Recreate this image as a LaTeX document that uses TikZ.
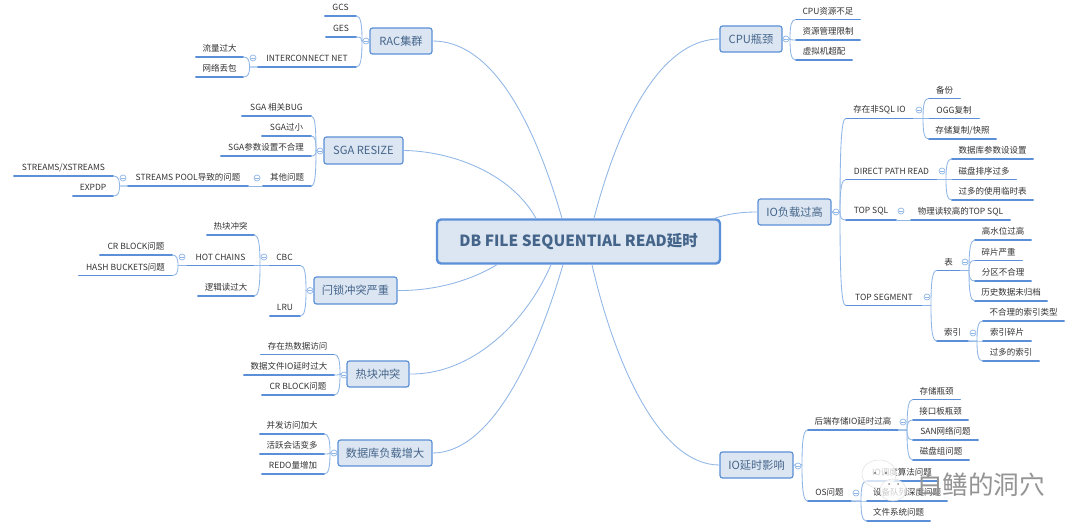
\documentclass[tikz,border=0pt]{standalone}
\usepackage{fontspec}
\setmainfont{Noto Sans CJK SC}
\usetikzlibrary{calc}
\definecolor{bfill}{HTML}{DCE6F2}
\definecolor{bline}{HTML}{5B90D8}
\definecolor{cline}{HTML}{8FB6E6}
\definecolor{btext}{HTML}{44648A}
\definecolor{ltext}{HTML}{333333}
\tikzset{
  x=1pt,y=-1pt,
  conn/.style={draw=cline,line width=0.85pt},
  uline/.style={draw=bline,line width=1.3pt,line cap=round},
  leafnode/.style={inner sep=0pt,minimum height=16.5pt,anchor=south,text=ltext,font=\fontsize{8.5}{10}\selectfont},
  boxnode/.style={draw=bline,fill=bfill,line width=1.2pt,rounded corners=2.5pt,inner sep=0pt,text=btext,font=\fontsize{11.2}{14}\selectfont},
  rootnode/.style={draw=bline,fill=bfill,line width=2.4pt,rounded corners=4pt,inner sep=0pt,text=btext,font=\fontsize{15.4}{18}\selectfont\bfseries},
  collnode/.style={circle,draw=cline,fill=white,line width=0.7pt,minimum size=6pt,inner sep=0pt},
  bubble/.style={draw=black!12,fill=white,fill opacity=0.75,line width=0.5pt},
}
\newcommand{\leaf}[5]{%
  \node[leafnode,minimum width={(#3-#2)*1pt}] (#1) at ({(#2+#3)/2},#4) {\makebox[0pt][c]{#5}};
  \draw[uline] (#1.south west) -- (#1.south east);
}
\newcommand{\bx}[6]{%
  \node[boxnode,minimum width={(#3-#2)*1pt},minimum height={(#5-#4)*1pt}] (#1) at ({(#2+#3)/2},{(#4+#5)/2}) {#6};
}
% connector with a stem at absolute x = #3
\newcommand{\cn}[3]{%
  \draw[conn] let \p1=(#1),\p2=(#2),\p3=(#3,0) in (\p1) -- (\x3,\y1) .. controls (\x3,{\y1+0.72*(\y2-\y1)}) and ({\x3+0.25*(\x2-\x3)},\y2) .. (\p2);
}
\newcommand{\coll}[3]{%
  \node[collnode] (#1) at (#2,#3) {};
  \draw[cline,line width=0.6pt] ([xshift=-1.8pt]#1.center) -- ([xshift=1.8pt]#1.center);
}
\begin{document}
\begin{tikzpicture}
\useasboundingbox (0,0) rectangle (1080,532);
\fill[white] (0,0) rectangle (1080,532);

% root and first level
\node[rootnode,minimum width=283pt,minimum height=44pt] (root) at (578.5,241.5) {DB FILE SEQUENTIAL READ延时};
\bx{rac}{370}{432}{28}{54}{RAC集群}
\bx{sga}{324}{403}{137}{164}{SGA RESIZE}
\bx{latch}{314}{397}{277}{304}{闩锁冲突严重}
\bx{hot}{347}{409}{361}{387}{热块冲突}
\bx{dbl}{338}{432}{440}{466}{数据库负载增大}
\bx{cpu}{720}{782}{26}{52}{CPU瓶颈}
\bx{ioh}{758}{831}{199}{225}{IO负载过高}
\bx{iod}{720}{793}{452}{478}{IO延时影响}

% root connectors
\draw[conn] (rac.east) .. controls (490,41) and (532,115) .. ([xshift=-16.5pt]root.north);
\draw[conn] (sga.east) .. controls (450,151) and (510,172) .. ([xshift=-42.5pt]root.north);
\draw[conn] (cpu.west) .. controls (670,39) and (625,100) .. ([xshift=15.5pt]root.north);
\draw[conn] (ioh.west) .. controls (740,212) and (728,214) .. ([xshift=136pt]root.north);
\draw[conn] (latch.east) .. controls (440,291) and (475,278) .. ([xshift=-81.5pt]root.south);
\draw[conn] (hot.east) .. controls (470,375) and (525,325) .. ([xshift=-27.5pt]root.south);
\draw[conn] (dbl.east) .. controls (490,453) and (535,360) .. ([xshift=-15.5pt]root.south);
\draw[conn] (iod.west) .. controls (660,465) and (615,365) .. ([xshift=13.5pt]root.south);

% RAC
\leaf{gcs}{325}{356}{16}{GCS}
\leaf{ges}{326}{356}{37}{GES}
\leaf{inet}{258}{356}{67}{INTERCONNECT NET}
\leaf{flow}{196}{243}{57}{流量过大}
\leaf{loss}{196}{243}{77}{网络丢包}
\cn{rac.west}{gcs.south east}{362}
\cn{rac.west}{ges.south east}{362}
\cn{rac.west}{inet.south east}{362}
\cn{inet.south west}{flow.south east}{249.5}
\cn{inet.south west}{loss.south east}{249.5}
\coll{c1}{366}{41}
\coll{c2}{253}{58}

% SGA
\leaf{sbug}{242}{311}{116}{SGA 相关BUG}
\leaf{ssmall}{262}{311}{136}{SGA过小}
\leaf{sparam}{221}{311}{156}{SGA参数设置不合理}
\leaf{sother}{263}{311}{186}{其他问题}
\leaf{spool}{128}{248}{186}{STREAMS POOL导致的问题}
\leaf{sx}{14}{113}{176}{STREAMS/XSTREAMS}
\leaf{sexp}{73}{113}{196}{EXPDP}
\cn{sga.west}{sbug.south east}{316}
\cn{sga.west}{ssmall.south east}{316}
\cn{sga.west}{sparam.south east}{316}
\cn{sga.west}{sother.south east}{316}
\draw[conn] (sother.south west) -- (spool.south east);
\cn{spool.south west}{sx.south east}{119.5}
\cn{spool.south west}{sexp.south east}{119.5}
\coll{c3}{320}{151}
\coll{c4}{257}{178}
\coll{c5}{123}{178}

% latch
\leaf{cbc}{269}{300}{265.5}{CBC}
\leaf{lru}{270}{300}{316}{LRU}
\leaf{lhot}{207}{254}{235}{热块冲突}
\leaf{chains}{187}{254}{265.5}{HOT CHAINS}
\leaf{lread}{198}{254}{296}{逻辑读过大}
\leaf{crb}{100}{172}{255}{CR BLOCK问题}
\leaf{hash}{79}{172}{275.5}{HASH BUCKETS问题}
\cn{latch.west}{cbc.south east}{306}
\cn{latch.west}{lru.south east}{306}
\cn{cbc.south west}{lhot.south east}{260}
\cn{cbc.south west}{chains.south east}{260}
\cn{cbc.south west}{lread.south east}{260}
\cn{chains.south west}{crb.south east}{178}
\cn{chains.south west}{hash.south east}{178}
\coll{c6}{310}{290.5}
\coll{c7}{264}{257}
\coll{c8}{182}{257}

% hot block
\leaf{hdata}{261}{334}{354.5}{存在热数据访问}
\leaf{hfile}{244}{334}{375}{数据文件IO延时过大}
\leaf{hcr}{262}{334}{395}{CR BLOCK问题}
\cn{hot.west}{hdata.south east}{340}
\cn{hot.west}{hfile.south east}{340}
\cn{hot.west}{hcr.south east}{340}
\coll{c9}{344}{375}

% db load
\leaf{dcon}{260}{324}{434}{并发访问加大}
\leaf{dact}{260}{324}{454}{活跃会话变多}
\leaf{dredo}{262}{324}{474}{REDO量增加}
\cn{dbl.west}{dcon.south east}{330}
\cn{dbl.west}{dact.south east}{330}
\cn{dbl.west}{dredo.south east}{330}
\coll{c10}{334}{453}

% CPU
\leaf{cres}{796}{860}{19.5}{CPU资源不足}
\leaf{cmgr}{796}{860}{40}{资源管理限制}
\leaf{cvm}{796}{852}{60}{虚拟机超配}
\cn{cpu.east}{cres.south west}{790}
\cn{cpu.east}{cmgr.south west}{790}
\cn{cpu.east}{cvm.south west}{790}
\coll{c11}{786}{39}

% IO load
\leaf{nsql}{846}{913}{118.5}{存在非SQL IO}
\leaf{dpr}{846}{937}{179.5}{DIRECT PATH READ}
\leaf{tsql}{846}{896}{220}{TOP SQL}
\leaf{tseg}{846}{922}{305.5}{TOP SEGMENT}
\cn{ioh.east}{nsql.south west}{840}
\cn{ioh.east}{dpr.south west}{840}
\cn{ioh.east}{tsql.south west}{840}
\cn{ioh.east}{tseg.south west}{840}
\coll{c12}{836}{212}

\leaf{bak}{929}{960}{98.5}{备份}
\leaf{ogg}{929}{979}{118.5}{OGG复制}
\leaf{snap}{929}{996}{139}{存储复制/快照}
\cn{nsql.south east}{bak.south west}{923}
\cn{nsql.south east}{ogg.south west}{923}
\cn{nsql.south east}{snap.south west}{923}
\coll{c13}{919}{110}

\leaf{dbp}{952}{1033}{159}{数据库参数设设置}
\leaf{dsort}{952}{1016}{179.5}{磁盘排序过多}
\leaf{dtmp}{952}{1033}{200}{过多的使用临时表}
\cn{dpr.south east}{dbp.south west}{946}
\cn{dpr.south east}{dsort.south west}{946}
\cn{dpr.south east}{dtmp.south west}{946}
\coll{c14}{942}{171}

\leaf{phys}{911}{1010}{220}{物理读较高的TOP SQL}
\draw[conn] (tsql.south east) -- (phys.south west);
\coll{c15}{901}{211}

\leaf{tbl}{937}{960}{270.5}{表}
\leaf{idx}{937}{968}{341}{索引}
\cn{tseg.south east}{tbl.south west}{931}
\cn{tseg.south east}{idx.south west}{931}
\coll{c16}{927}{297}

\leaf{hwm}{975}{1031}{240}{高水位过高}
\leaf{frag}{975}{1022}{260.5}{碎片严重}
\leaf{part}{975}{1031}{281}{分区不合理}
\leaf{hist}{975}{1047}{301}{历史数据未归档}
\cn{tbl.south east}{hwm.south west}{969}
\cn{tbl.south east}{frag.south west}{969}
\cn{tbl.south east}{part.south west}{969}
\cn{tbl.south east}{hist.south west}{969}
\coll{c17}{965}{262}

\leaf{itype}{983}{1064}{321}{不合理的索引类型}
\leaf{ifrag}{983}{1031}{341}{索引碎片}
\leaf{imany}{983}{1039}{361}{过多的索引}
\cn{idx.south east}{itype.south west}{977}
\cn{idx.south east}{ifrag.south west}{977}
\cn{idx.south east}{imany.south west}{977}
\coll{c18}{973}{333}

% IO delay
\leaf{back}{808}{898}{430}{后端存储IO延时过高}
\leaf{osp}{808}{851}{501}{OS问题}
\cn{iod.east}{back.south west}{802}
\cn{iod.east}{osp.south west}{802}
\coll{c19}{798}{466}

\leaf{st1}{913}{960}{399.5}{存储瓶颈}
\leaf{st2}{913}{968}{420}{接口板瓶颈}
\leaf{st3}{913}{978}{440}{SAN网络问题}
\leaf{st4}{913}{969}{460}{磁盘组问题}
\cn{back.south east}{st1.south west}{907}
\cn{back.south east}{st2.south west}{907}
\cn{back.south east}{st3.south west}{907}
\cn{back.south east}{st4.south west}{907}
\coll{c20}{903}{422}

\leaf{os1}{867}{937}{481}{IO调度算法问题}
\leaf{os2}{867}{947}{501}{设备队列深度问题}
\leaf{os3}{867}{930}{521}{文件系统问题}
\cn{osp.south east}{os1.south west}{861}
\cn{osp.south east}{os2.south west}{861}
\cn{osp.south east}{os3.south west}{861}
\coll{c21}{856}{493}

% watermark
\filldraw[bubble] (879,474) ellipse (17 and 14);
\fill[black!55] (875,473) circle (1.2) (886,473) circle (1.2);
\filldraw[bubble] (893,490) ellipse (13 and 11);
\fill[black!45] (889,484) circle (1) (898,484) circle (1);
\node[inner sep=0pt,text=black!42,font=\fontsize{25.6}{27}\selectfont] (mark) at (981,485) {白鳝的洞穴};
\end{tikzpicture}
\end{document}
